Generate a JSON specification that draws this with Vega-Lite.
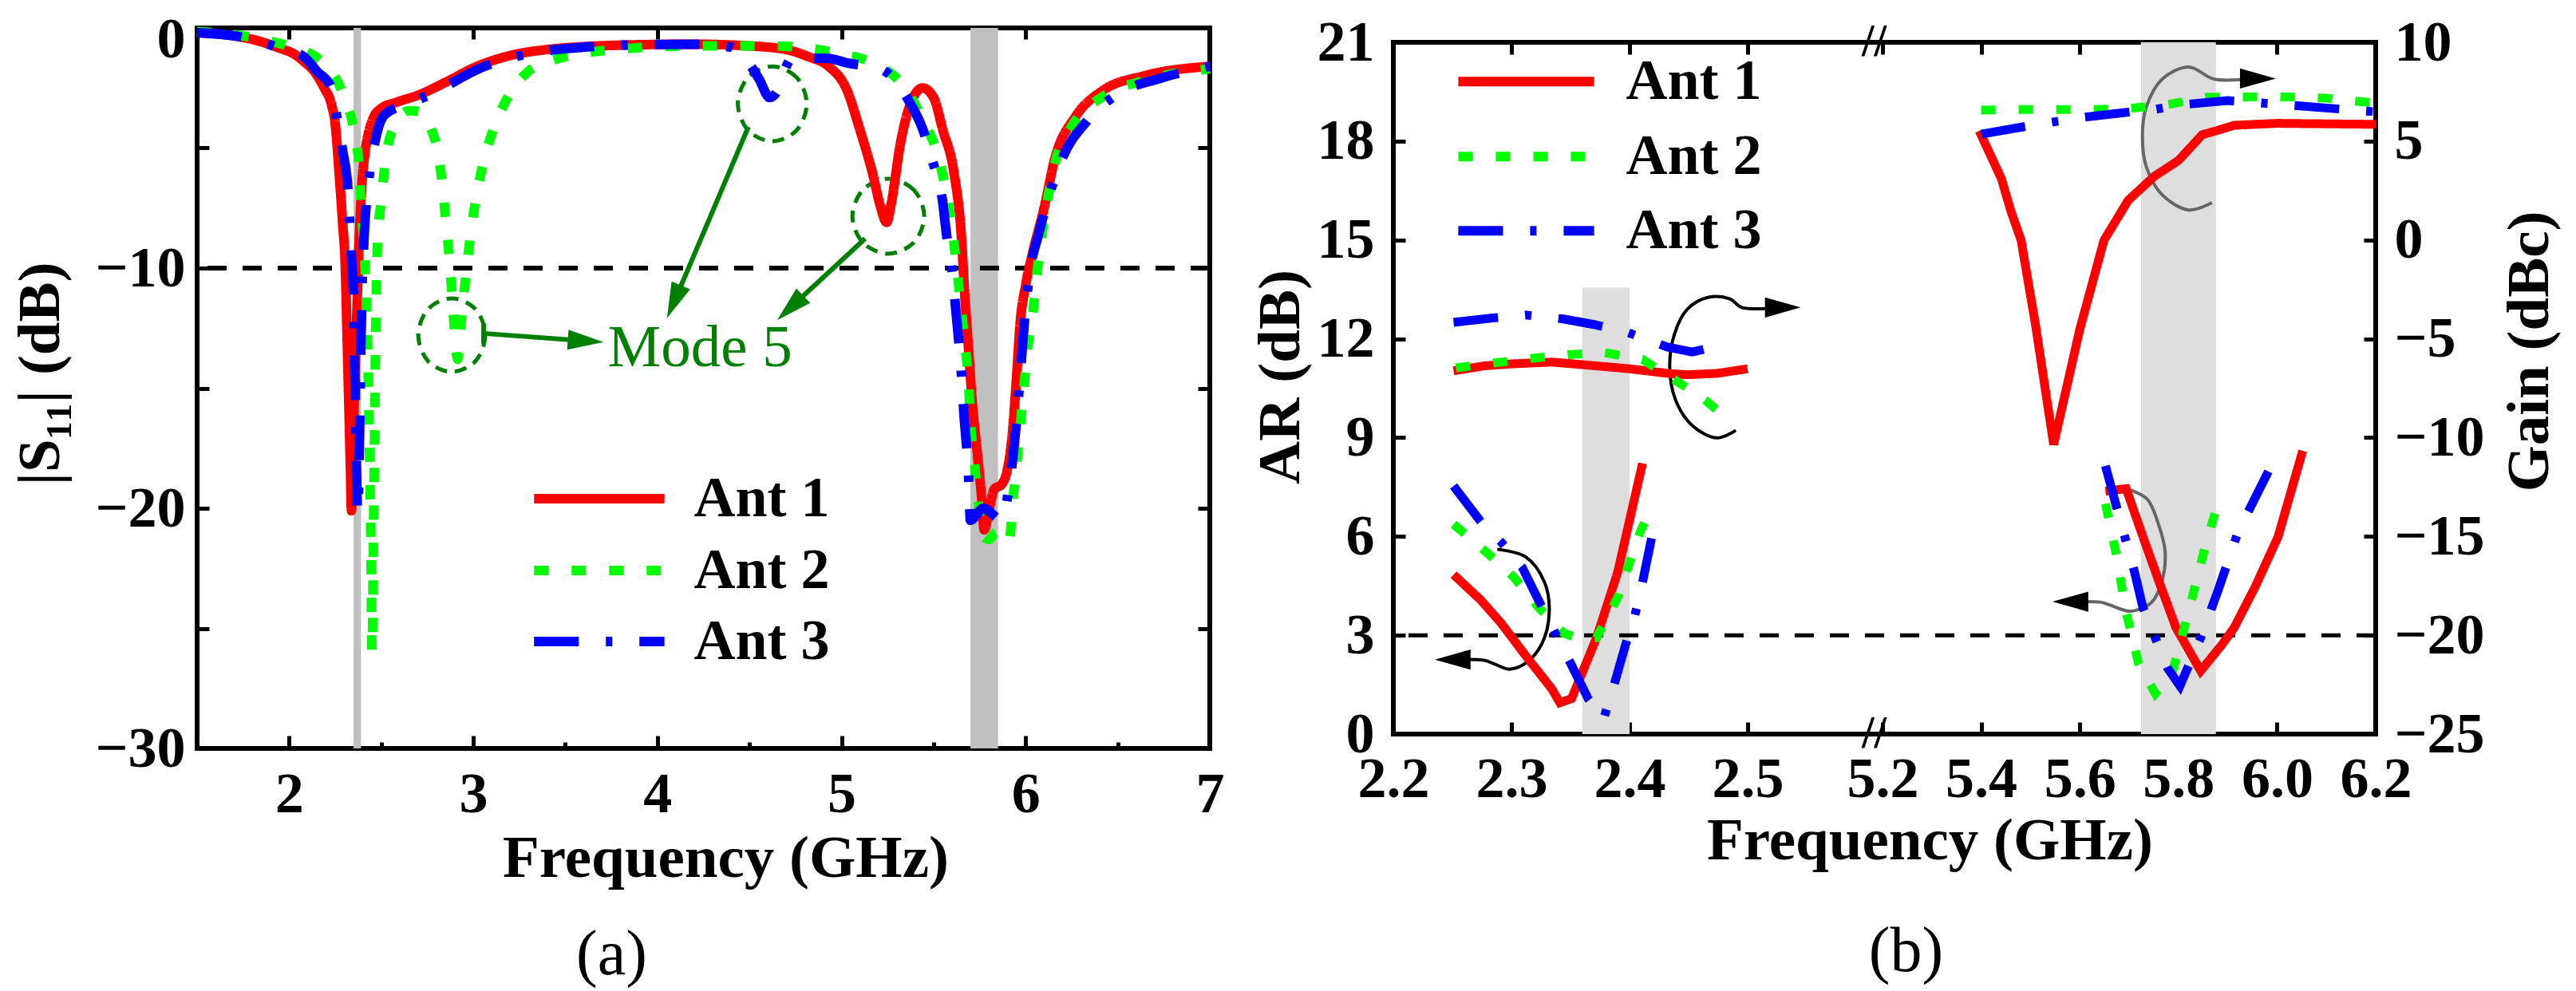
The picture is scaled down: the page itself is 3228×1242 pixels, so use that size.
{
  "$schema": "https://vega.github.io/schema/vega-lite/v6.json",
  "background": "white",
  "padding": {"left": 10, "top": 10, "right": 0, "bottom": 0},
  "spacing": 230,
  "bounds": "flush",
  "center": true,
  "config": {
    "font": "Liberation Serif",
    "view": {"stroke": "#000000", "strokeWidth": 6},
    "axis": {
      "grid": false, "domain": false, "ticks": true,
      "tickColor": "#000000", "tickWidth": 5,
      "labelFont": "Liberation Serif", "labelFontSize": 72, "labelFontWeight": "bold", "labelColor": "#000000",
      "labelOverlap": false, "labelFlush": false,
      "titleFont": "Liberation Serif", "titleFontSize": 75, "titleFontWeight": "bold", "titleColor": "#000000"
    },
    "title": {"font": "Liberation Serif", "fontSize": 80, "fontWeight": "normal", "color": "#000000"},
    "text": {"font": "Liberation Serif"}
  },
  "datasets": {
    "s11": [
      {"ant": "Ant 1", "f": 1.5, "db": -0.2}, {"ant": "Ant 1", "f": 1.7, "db": -0.33}, {"ant": "Ant 1", "f": 1.85, "db": -0.58},
      {"ant": "Ant 1", "f": 1.95, "db": -0.85}, {"ant": "Ant 1", "f": 2.03, "db": -1.1}, {"ant": "Ant 1", "f": 2.08, "db": -1.4},
      {"ant": "Ant 1", "f": 2.14, "db": -1.85}, {"ant": "Ant 1", "f": 2.19, "db": -2.5}, {"ant": "Ant 1", "f": 2.23, "db": -3.2},
      {"ant": "Ant 1", "f": 2.25, "db": -4.0}, {"ant": "Ant 1", "f": 2.27, "db": -5.9}, {"ant": "Ant 1", "f": 2.29, "db": -8.1},
      {"ant": "Ant 1", "f": 2.305, "db": -10.0}, {"ant": "Ant 1", "f": 2.315, "db": -13.0}, {"ant": "Ant 1", "f": 2.325, "db": -16.0},
      {"ant": "Ant 1", "f": 2.333, "db": -18.5}, {"ant": "Ant 1", "f": 2.338, "db": -20.1}, {"ant": "Ant 1", "f": 2.345, "db": -18.0},
      {"ant": "Ant 1", "f": 2.355, "db": -15.0}, {"ant": "Ant 1", "f": 2.365, "db": -12.5}, {"ant": "Ant 1", "f": 2.375, "db": -10.0},
      {"ant": "Ant 1", "f": 2.385, "db": -8.0}, {"ant": "Ant 1", "f": 2.395, "db": -6.5}, {"ant": "Ant 1", "f": 2.41, "db": -5.3},
      {"ant": "Ant 1", "f": 2.43, "db": -4.4}, {"ant": "Ant 1", "f": 2.46, "db": -3.7}, {"ant": "Ant 1", "f": 2.5, "db": -3.35},
      {"ant": "Ant 1", "f": 2.58, "db": -3.1}, {"ant": "Ant 1", "f": 2.7, "db": -2.8}, {"ant": "Ant 1", "f": 2.85, "db": -2.26},
      {"ant": "Ant 1", "f": 3.02, "db": -1.6}, {"ant": "Ant 1", "f": 3.21, "db": -1.13}, {"ant": "Ant 1", "f": 3.4, "db": -0.9},
      {"ant": "Ant 1", "f": 3.6, "db": -0.78}, {"ant": "Ant 1", "f": 3.9, "db": -0.7}, {"ant": "Ant 1", "f": 4.2, "db": -0.68},
      {"ant": "Ant 1", "f": 4.5, "db": -0.75}, {"ant": "Ant 1", "f": 4.7, "db": -0.9}, {"ant": "Ant 1", "f": 4.82, "db": -1.2},
      {"ant": "Ant 1", "f": 4.93, "db": -1.6}, {"ant": "Ant 1", "f": 5.03, "db": -2.6}, {"ant": "Ant 1", "f": 5.1, "db": -4.25},
      {"ant": "Ant 1", "f": 5.17, "db": -6.1}, {"ant": "Ant 1", "f": 5.21, "db": -7.4}, {"ant": "Ant 1", "f": 5.245, "db": -8.1},
      {"ant": "Ant 1", "f": 5.27, "db": -7.3}, {"ant": "Ant 1", "f": 5.32, "db": -4.8}, {"ant": "Ant 1", "f": 5.37, "db": -3.25},
      {"ant": "Ant 1", "f": 5.44, "db": -2.5}, {"ant": "Ant 1", "f": 5.5, "db": -2.9}, {"ant": "Ant 1", "f": 5.55, "db": -4.25},
      {"ant": "Ant 1", "f": 5.61, "db": -6.0}, {"ant": "Ant 1", "f": 5.65, "db": -8.6}, {"ant": "Ant 1", "f": 5.67, "db": -11.2},
      {"ant": "Ant 1", "f": 5.69, "db": -13.4}, {"ant": "Ant 1", "f": 5.71, "db": -15.6}, {"ant": "Ant 1", "f": 5.74, "db": -17.9},
      {"ant": "Ant 1", "f": 5.76, "db": -19.5}, {"ant": "Ant 1", "f": 5.775, "db": -20.9}, {"ant": "Ant 1", "f": 5.8, "db": -20.1},
      {"ant": "Ant 1", "f": 5.83, "db": -19.2}, {"ant": "Ant 1", "f": 5.87, "db": -19.0}, {"ant": "Ant 1", "f": 5.9, "db": -18.4},
      {"ant": "Ant 1", "f": 5.93, "db": -16.7}, {"ant": "Ant 1", "f": 5.95, "db": -14.6}, {"ant": "Ant 1", "f": 5.97, "db": -12.3},
      {"ant": "Ant 1", "f": 6.0, "db": -10.7}, {"ant": "Ant 1", "f": 6.04, "db": -9.3}, {"ant": "Ant 1", "f": 6.1, "db": -7.5},
      {"ant": "Ant 1", "f": 6.16, "db": -5.4}, {"ant": "Ant 1", "f": 6.27, "db": -3.7}, {"ant": "Ant 1", "f": 6.42, "db": -2.6},
      {"ant": "Ant 1", "f": 6.64, "db": -2.0}, {"ant": "Ant 1", "f": 7.0, "db": -1.6},

      {"ant": "Ant 2", "f": 1.5, "db": -0.15}, {"ant": "Ant 2", "f": 1.8, "db": -0.4}, {"ant": "Ant 2", "f": 2.03, "db": -0.85},
      {"ant": "Ant 2", "f": 2.16, "db": -1.3}, {"ant": "Ant 2", "f": 2.29, "db": -2.7}, {"ant": "Ant 2", "f": 2.35, "db": -4.2},
      {"ant": "Ant 2", "f": 2.38, "db": -5.8}, {"ant": "Ant 2", "f": 2.39, "db": -7.3}, {"ant": "Ant 2", "f": 2.405, "db": -9.0},
      {"ant": "Ant 2", "f": 2.415, "db": -10.5}, {"ant": "Ant 2", "f": 2.425, "db": -13.0}, {"ant": "Ant 2", "f": 2.435, "db": -17.0},
      {"ant": "Ant 2", "f": 2.443, "db": -21.0}, {"ant": "Ant 2", "f": 2.45, "db": -26.0}, {"ant": "Ant 2", "f": 2.458, "db": -21.0},
      {"ant": "Ant 2", "f": 2.465, "db": -16.0}, {"ant": "Ant 2", "f": 2.47, "db": -12.5}, {"ant": "Ant 2", "f": 2.475, "db": -10.3},
      {"ant": "Ant 2", "f": 2.48, "db": -8.8}, {"ant": "Ant 2", "f": 2.5, "db": -7.2}, {"ant": "Ant 2", "f": 2.52, "db": -5.7},
      {"ant": "Ant 2", "f": 2.57, "db": -4.1}, {"ant": "Ant 2", "f": 2.65, "db": -3.45}, {"ant": "Ant 2", "f": 2.72, "db": -3.5},
      {"ant": "Ant 2", "f": 2.77, "db": -4.2}, {"ant": "Ant 2", "f": 2.8, "db": -4.9}, {"ant": "Ant 2", "f": 2.83, "db": -6.4},
      {"ant": "Ant 2", "f": 2.85, "db": -8.0}, {"ant": "Ant 2", "f": 2.87, "db": -9.6}, {"ant": "Ant 2", "f": 2.885, "db": -11.2},
      {"ant": "Ant 2", "f": 2.9, "db": -12.8}, {"ant": "Ant 2", "f": 2.915, "db": -13.8}, {"ant": "Ant 2", "f": 2.93, "db": -12.6},
      {"ant": "Ant 2", "f": 2.95, "db": -11.0}, {"ant": "Ant 2", "f": 2.97, "db": -9.6}, {"ant": "Ant 2", "f": 2.99, "db": -8.3},
      {"ant": "Ant 2", "f": 3.01, "db": -7.3}, {"ant": "Ant 2", "f": 3.05, "db": -5.75}, {"ant": "Ant 2", "f": 3.11, "db": -4.2},
      {"ant": "Ant 2", "f": 3.19, "db": -2.85}, {"ant": "Ant 2", "f": 3.3, "db": -1.8}, {"ant": "Ant 2", "f": 3.45, "db": -1.3},
      {"ant": "Ant 2", "f": 3.6, "db": -1.05}, {"ant": "Ant 2", "f": 3.8, "db": -0.88}, {"ant": "Ant 2", "f": 4.2, "db": -0.75},
      {"ant": "Ant 2", "f": 4.6, "db": -0.75}, {"ant": "Ant 2", "f": 4.8, "db": -0.82}, {"ant": "Ant 2", "f": 5.0, "db": -1.1},
      {"ant": "Ant 2", "f": 5.17, "db": -1.46}, {"ant": "Ant 2", "f": 5.34, "db": -2.46}, {"ant": "Ant 2", "f": 5.44, "db": -3.8},
      {"ant": "Ant 2", "f": 5.52, "db": -5.25}, {"ant": "Ant 2", "f": 5.57, "db": -6.9}, {"ant": "Ant 2", "f": 5.6, "db": -8.3},
      {"ant": "Ant 2", "f": 5.62, "db": -9.6}, {"ant": "Ant 2", "f": 5.65, "db": -11.7}, {"ant": "Ant 2", "f": 5.67, "db": -13.2},
      {"ant": "Ant 2", "f": 5.69, "db": -14.8}, {"ant": "Ant 2", "f": 5.7, "db": -16.4}, {"ant": "Ant 2", "f": 5.72, "db": -18.0},
      {"ant": "Ant 2", "f": 5.74, "db": -19.5}, {"ant": "Ant 2", "f": 5.76, "db": -21.1}, {"ant": "Ant 2", "f": 5.8, "db": -21.3},
      {"ant": "Ant 2", "f": 5.84, "db": -21.0}, {"ant": "Ant 2", "f": 5.88, "db": -21.2}, {"ant": "Ant 2", "f": 5.91, "db": -21.4},
      {"ant": "Ant 2", "f": 5.93, "db": -19.7}, {"ant": "Ant 2", "f": 5.95, "db": -18.2}, {"ant": "Ant 2", "f": 5.97, "db": -16.6},
      {"ant": "Ant 2", "f": 5.99, "db": -15.0}, {"ant": "Ant 2", "f": 6.01, "db": -13.4}, {"ant": "Ant 2", "f": 6.04, "db": -11.8},
      {"ant": "Ant 2", "f": 6.06, "db": -10.3}, {"ant": "Ant 2", "f": 6.12, "db": -7.1}, {"ant": "Ant 2", "f": 6.16, "db": -5.6},
      {"ant": "Ant 2", "f": 6.25, "db": -4.1}, {"ant": "Ant 2", "f": 6.42, "db": -2.85}, {"ant": "Ant 2", "f": 6.64, "db": -2.2},
      {"ant": "Ant 2", "f": 7.0, "db": -1.7},

      {"ant": "Ant 3", "f": 1.5, "db": -0.2}, {"ant": "Ant 3", "f": 1.7, "db": -0.33}, {"ant": "Ant 3", "f": 1.85, "db": -0.58},
      {"ant": "Ant 3", "f": 1.95, "db": -0.85}, {"ant": "Ant 3", "f": 2.08, "db": -1.2}, {"ant": "Ant 3", "f": 2.15, "db": -1.8},
      {"ant": "Ant 3", "f": 2.23, "db": -2.5}, {"ant": "Ant 3", "f": 2.26, "db": -3.75}, {"ant": "Ant 3", "f": 2.29, "db": -5.1},
      {"ant": "Ant 3", "f": 2.32, "db": -6.8}, {"ant": "Ant 3", "f": 2.33, "db": -8.2}, {"ant": "Ant 3", "f": 2.34, "db": -9.8},
      {"ant": "Ant 3", "f": 2.35, "db": -11.3}, {"ant": "Ant 3", "f": 2.355, "db": -13.9}, {"ant": "Ant 3", "f": 2.36, "db": -15.7},
      {"ant": "Ant 3", "f": 2.365, "db": -18.3}, {"ant": "Ant 3", "f": 2.372, "db": -20.2}, {"ant": "Ant 3", "f": 2.38, "db": -18.0},
      {"ant": "Ant 3", "f": 2.385, "db": -15.5}, {"ant": "Ant 3", "f": 2.39, "db": -13.0}, {"ant": "Ant 3", "f": 2.395, "db": -11.0},
      {"ant": "Ant 3", "f": 2.405, "db": -9.0}, {"ant": "Ant 3", "f": 2.43, "db": -6.5}, {"ant": "Ant 3", "f": 2.47, "db": -4.6},
      {"ant": "Ant 3", "f": 2.52, "db": -3.6}, {"ant": "Ant 3", "f": 2.67, "db": -3.1}, {"ant": "Ant 3", "f": 2.81, "db": -2.6},
      {"ant": "Ant 3", "f": 3.03, "db": -1.7}, {"ant": "Ant 3", "f": 3.2, "db": -1.26}, {"ant": "Ant 3", "f": 3.4, "db": -0.95},
      {"ant": "Ant 3", "f": 3.6, "db": -0.8}, {"ant": "Ant 3", "f": 3.9, "db": -0.7}, {"ant": "Ant 3", "f": 4.2, "db": -0.68},
      {"ant": "Ant 3", "f": 4.4, "db": -0.8}, {"ant": "Ant 3", "f": 4.47, "db": -1.2}, {"ant": "Ant 3", "f": 4.55, "db": -2.1},
      {"ant": "Ant 3", "f": 4.61, "db": -2.9}, {"ant": "Ant 3", "f": 4.66, "db": -2.5}, {"ant": "Ant 3", "f": 4.7, "db": -1.6},
      {"ant": "Ant 3", "f": 4.73, "db": -1.26}, {"ant": "Ant 3", "f": 4.92, "db": -1.26}, {"ant": "Ant 3", "f": 5.03, "db": -1.46},
      {"ant": "Ant 3", "f": 5.21, "db": -1.7}, {"ant": "Ant 3", "f": 5.37, "db": -3.1}, {"ant": "Ant 3", "f": 5.44, "db": -4.2},
      {"ant": "Ant 3", "f": 5.49, "db": -5.45}, {"ant": "Ant 3", "f": 5.55, "db": -7.3}, {"ant": "Ant 3", "f": 5.57, "db": -8.6},
      {"ant": "Ant 3", "f": 5.6, "db": -10.1}, {"ant": "Ant 3", "f": 5.62, "db": -11.7}, {"ant": "Ant 3", "f": 5.65, "db": -14.3},
      {"ant": "Ant 3", "f": 5.665, "db": -16.1}, {"ant": "Ant 3", "f": 5.69, "db": -18.7}, {"ant": "Ant 3", "f": 5.7, "db": -20.5},
      {"ant": "Ant 3", "f": 5.77, "db": -20.0}, {"ant": "Ant 3", "f": 5.87, "db": -20.5}, {"ant": "Ant 3", "f": 5.91, "db": -19.1},
      {"ant": "Ant 3", "f": 5.94, "db": -17.2}, {"ant": "Ant 3", "f": 5.97, "db": -14.5}, {"ant": "Ant 3", "f": 5.99, "db": -12.5},
      {"ant": "Ant 3", "f": 6.02, "db": -10.3}, {"ant": "Ant 3", "f": 6.07, "db": -8.6}, {"ant": "Ant 3", "f": 6.2, "db": -5.4},
      {"ant": "Ant 3", "f": 6.33, "db": -3.9}, {"ant": "Ant 3", "f": 6.5, "db": -2.75}, {"ant": "Ant 3", "f": 6.73, "db": -2.1},
      {"ant": "Ant 3", "f": 7.0, "db": -1.6}
    ],
    "circlesA": [
      {"id": "c1", "f": 3.065, "db": -12.79}, {"id": "c1", "f": 3.012, "db": -11.71}, {"id": "c1", "f": 2.883, "db": -11.26},
      {"id": "c1", "f": 2.754, "db": -11.71}, {"id": "c1", "f": 2.701, "db": -12.79}, {"id": "c1", "f": 2.754, "db": -13.87},
      {"id": "c1", "f": 2.883, "db": -14.32}, {"id": "c1", "f": 3.012, "db": -13.87},
      {"id": "c2", "f": 4.811, "db": -3.16}, {"id": "c2", "f": 4.756, "db": -2.06}, {"id": "c2", "f": 4.624, "db": -1.6},
      {"id": "c2", "f": 4.492, "db": -2.06}, {"id": "c2", "f": 4.437, "db": -3.16}, {"id": "c2", "f": 4.492, "db": -4.26},
      {"id": "c2", "f": 4.624, "db": -4.72}, {"id": "c2", "f": 4.756, "db": -4.26},
      {"id": "c3", "f": 5.449, "db": -7.84}, {"id": "c3", "f": 5.392, "db": -6.74}, {"id": "c3", "f": 5.254, "db": -6.28},
      {"id": "c3", "f": 5.116, "db": -6.74}, {"id": "c3", "f": 5.059, "db": -7.84}, {"id": "c3", "f": 5.116, "db": -8.94},
      {"id": "c3", "f": 5.254, "db": -9.4}, {"id": "c3", "f": 5.392, "db": -8.94}
    ],
    "arrowsA": [
      {"id": "a1", "f": 3.056, "db": -12.72}, {"id": "a1", "f": 3.621, "db": -13.04},
      {"id": "a2", "f": 4.494, "db": -4.12}, {"id": "a2", "f": 4.086, "db": -11.5},
      {"id": "a3", "f": 5.128, "db": -8.77}, {"id": "a3", "f": 4.714, "db": -11.71},
      {"id": "t1", "f": 3.056, "db": -12.3}, {"id": "t1", "f": 3.056, "db": -13.15}
    ],
    "gain": [
      {"ant": "Ant 1", "band": "lo", "f": 2.251, "g": -6.62}, {"ant": "Ant 1", "band": "lo", "f": 2.277, "g": -6.37},
      {"ant": "Ant 1", "band": "lo", "f": 2.3, "g": -6.27}, {"ant": "Ant 1", "band": "lo", "f": 2.334, "g": -6.18},
      {"ant": "Ant 1", "band": "lo", "f": 2.362, "g": -6.32}, {"ant": "Ant 1", "band": "lo", "f": 2.4, "g": -6.52},
      {"ant": "Ant 1", "band": "lo", "f": 2.432, "g": -6.75}, {"ant": "Ant 1", "band": "lo", "f": 2.449, "g": -6.82},
      {"ant": "Ant 1", "band": "lo", "f": 2.474, "g": -6.75}, {"ant": "Ant 1", "band": "lo", "f": 2.5, "g": -6.52},
      {"ant": "Ant 1", "band": "hi", "f": 5.396, "g": 5.52}, {"ant": "Ant 1", "band": "hi", "f": 5.441, "g": 3.1},
      {"ant": "Ant 1", "band": "hi", "f": 5.46, "g": 1.48}, {"ant": "Ant 1", "band": "hi", "f": 5.481, "g": -0.02},
      {"ant": "Ant 1", "band": "hi", "f": 5.51, "g": -4.27}, {"ant": "Ant 1", "band": "hi", "f": 5.547, "g": -10.35},
      {"ant": "Ant 1", "band": "hi", "f": 5.6, "g": -4.52}, {"ant": "Ant 1", "band": "hi", "f": 5.649, "g": -0.02},
      {"ant": "Ant 1", "band": "hi", "f": 5.698, "g": 2.0}, {"ant": "Ant 1", "band": "hi", "f": 5.751, "g": 3.22},
      {"ant": "Ant 1", "band": "hi", "f": 5.8, "g": 4.02}, {"ant": "Ant 1", "band": "hi", "f": 5.848, "g": 5.32},
      {"ant": "Ant 1", "band": "hi", "f": 5.876, "g": 5.52}, {"ant": "Ant 1", "band": "hi", "f": 5.913, "g": 5.8},
      {"ant": "Ant 1", "band": "hi", "f": 6.0, "g": 5.9}, {"ant": "Ant 1", "band": "hi", "f": 6.2, "g": 5.85},

      {"ant": "Ant 2", "band": "lo", "f": 2.253, "g": -6.47}, {"ant": "Ant 2", "band": "lo", "f": 2.286, "g": -6.22},
      {"ant": "Ant 2", "band": "lo", "f": 2.316, "g": -6.0}, {"ant": "Ant 2", "band": "lo", "f": 2.348, "g": -5.8},
      {"ant": "Ant 2", "band": "lo", "f": 2.379, "g": -5.7}, {"ant": "Ant 2", "band": "lo", "f": 2.411, "g": -6.05},
      {"ant": "Ant 2", "band": "lo", "f": 2.435, "g": -6.95}, {"ant": "Ant 2", "band": "lo", "f": 2.464, "g": -8.1},
      {"ant": "Ant 2", "band": "lo", "f": 2.485, "g": -9.18},
      {"ant": "Ant 2", "band": "hi", "f": 5.4, "g": 6.57}, {"ant": "Ant 2", "band": "hi", "f": 5.488, "g": 6.6},
      {"ant": "Ant 2", "band": "hi", "f": 5.562, "g": 6.6}, {"ant": "Ant 2", "band": "hi", "f": 5.637, "g": 6.6},
      {"ant": "Ant 2", "band": "hi", "f": 5.711, "g": 6.68}, {"ant": "Ant 2", "band": "hi", "f": 5.785, "g": 6.88},
      {"ant": "Ant 2", "band": "hi", "f": 5.86, "g": 7.22}, {"ant": "Ant 2", "band": "hi", "f": 6.0, "g": 7.25},
      {"ant": "Ant 2", "band": "hi", "f": 6.1, "g": 7.17}, {"ant": "Ant 2", "band": "hi", "f": 6.2, "g": 6.92},

      {"ant": "Ant 3", "band": "lo", "f": 2.251, "g": -4.17}, {"ant": "Ant 3", "band": "lo", "f": 2.284, "g": -3.95},
      {"ant": "Ant 3", "band": "lo", "f": 2.312, "g": -3.8}, {"ant": "Ant 3", "band": "lo", "f": 2.344, "g": -4.0},
      {"ant": "Ant 3", "band": "lo", "f": 2.369, "g": -4.27}, {"ant": "Ant 3", "band": "lo", "f": 2.397, "g": -4.65},
      {"ant": "Ant 3", "band": "lo", "f": 2.432, "g": -5.42}, {"ant": "Ant 3", "band": "lo", "f": 2.453, "g": -5.67},
      {"ant": "Ant 3", "band": "lo", "f": 2.481, "g": -5.28},
      {"ant": "Ant 3", "band": "hi", "f": 5.4, "g": 5.35}, {"ant": "Ant 3", "band": "hi", "f": 5.485, "g": 5.72},
      {"ant": "Ant 3", "band": "hi", "f": 5.546, "g": 5.97}, {"ant": "Ant 3", "band": "hi", "f": 5.606, "g": 6.2},
      {"ant": "Ant 3", "band": "hi", "f": 5.692, "g": 6.45}, {"ant": "Ant 3", "band": "hi", "f": 5.751, "g": 6.6},
      {"ant": "Ant 3", "band": "hi", "f": 5.811, "g": 6.85}, {"ant": "Ant 3", "band": "hi", "f": 5.9, "g": 7.05},
      {"ant": "Ant 3", "band": "hi", "f": 6.0, "g": 6.87}, {"ant": "Ant 3", "band": "hi", "f": 6.2, "g": 6.48}
    ],
    "ar": [
      {"ant": "Ant 1", "band": "lo", "f": 2.251, "ar": 4.84}, {"ant": "Ant 1", "band": "lo", "f": 2.274, "ar": 4.07},
      {"ant": "Ant 1", "band": "lo", "f": 2.291, "ar": 3.38}, {"ant": "Ant 1", "band": "lo", "f": 2.312, "ar": 2.38},
      {"ant": "Ant 1", "band": "lo", "f": 2.334, "ar": 1.38}, {"ant": "Ant 1", "band": "lo", "f": 2.341, "ar": 0.95},
      {"ant": "Ant 1", "band": "lo", "f": 2.351, "ar": 1.08}, {"ant": "Ant 1", "band": "lo", "f": 2.372, "ar": 2.92},
      {"ant": "Ant 1", "band": "lo", "f": 2.39, "ar": 4.92}, {"ant": "Ant 1", "band": "lo", "f": 2.411, "ar": 8.22},
      {"ant": "Ant 1", "band": "hi", "f": 5.652, "ar": 7.37}, {"ant": "Ant 1", "band": "hi", "f": 5.694, "ar": 7.45},
      {"ant": "Ant 1", "band": "hi", "f": 5.728, "ar": 5.99}, {"ant": "Ant 1", "band": "hi", "f": 5.761, "ar": 4.61},
      {"ant": "Ant 1", "band": "hi", "f": 5.795, "ar": 3.23}, {"ant": "Ant 1", "band": "hi", "f": 5.845, "ar": 1.92},
      {"ant": "Ant 1", "band": "hi", "f": 5.887, "ar": 2.69}, {"ant": "Ant 1", "band": "hi", "f": 5.913, "ar": 3.23},
      {"ant": "Ant 1", "band": "hi", "f": 5.955, "ar": 4.45}, {"ant": "Ant 1", "band": "hi", "f": 6.002, "ar": 5.99},
      {"ant": "Ant 1", "band": "hi", "f": 6.052, "ar": 8.6},

      {"ant": "Ant 2", "band": "lo", "f": 2.251, "ar": 6.37}, {"ant": "Ant 2", "band": "lo", "f": 2.281, "ar": 5.45},
      {"ant": "Ant 2", "band": "lo", "f": 2.302, "ar": 4.76}, {"ant": "Ant 2", "band": "lo", "f": 2.323, "ar": 3.84},
      {"ant": "Ant 2", "band": "lo", "f": 2.344, "ar": 3.07}, {"ant": "Ant 2", "band": "lo", "f": 2.36, "ar": 2.85},
      {"ant": "Ant 2", "band": "lo", "f": 2.372, "ar": 2.92}, {"ant": "Ant 2", "band": "lo", "f": 2.39, "ar": 4.15},
      {"ant": "Ant 2", "band": "lo", "f": 2.409, "ar": 6.14}, {"ant": "Ant 2", "band": "lo", "f": 2.415, "ar": 6.6},
      {"ant": "Ant 2", "band": "hi", "f": 5.652, "ar": 6.99}, {"ant": "Ant 2", "band": "hi", "f": 5.674, "ar": 5.45},
      {"ant": "Ant 2", "band": "hi", "f": 5.694, "ar": 3.69}, {"ant": "Ant 2", "band": "hi", "f": 5.719, "ar": 2.15},
      {"ant": "Ant 2", "band": "hi", "f": 5.753, "ar": 1.23}, {"ant": "Ant 2", "band": "hi", "f": 5.787, "ar": 1.84},
      {"ant": "Ant 2", "band": "hi", "f": 5.82, "ar": 3.69}, {"ant": "Ant 2", "band": "hi", "f": 5.854, "ar": 5.68},
      {"ant": "Ant 2", "band": "hi", "f": 5.887, "ar": 7.37},

      {"ant": "Ant 3", "band": "lo", "f": 2.251, "ar": 7.53}, {"ant": "Ant 3", "band": "lo", "f": 2.274, "ar": 6.45},
      {"ant": "Ant 3", "band": "lo", "f": 2.291, "ar": 5.84}, {"ant": "Ant 3", "band": "lo", "f": 2.309, "ar": 5.07},
      {"ant": "Ant 3", "band": "lo", "f": 2.326, "ar": 3.84}, {"ant": "Ant 3", "band": "lo", "f": 2.337, "ar": 3.07},
      {"ant": "Ant 3", "band": "lo", "f": 2.348, "ar": 2.3}, {"ant": "Ant 3", "band": "lo", "f": 2.365, "ar": 1.07},
      {"ant": "Ant 3", "band": "lo", "f": 2.378, "ar": 0.46}, {"ant": "Ant 3", "band": "lo", "f": 2.386, "ar": 1.38},
      {"ant": "Ant 3", "band": "lo", "f": 2.397, "ar": 2.76}, {"ant": "Ant 3", "band": "lo", "f": 2.404, "ar": 3.53},
      {"ant": "Ant 3", "band": "lo", "f": 2.411, "ar": 4.61}, {"ant": "Ant 3", "band": "lo", "f": 2.418, "ar": 5.84},
      {"ant": "Ant 3", "band": "lo", "f": 2.422, "ar": 6.52},
      {"ant": "Ant 3", "band": "hi", "f": 5.652, "ar": 8.14}, {"ant": "Ant 3", "band": "hi", "f": 5.677, "ar": 6.76},
      {"ant": "Ant 3", "band": "hi", "f": 5.711, "ar": 4.92}, {"ant": "Ant 3", "band": "hi", "f": 5.728, "ar": 3.84},
      {"ant": "Ant 3", "band": "hi", "f": 5.753, "ar": 2.92}, {"ant": "Ant 3", "band": "hi", "f": 5.778, "ar": 2.0},
      {"ant": "Ant 3", "band": "hi", "f": 5.803, "ar": 1.46}, {"ant": "Ant 3", "band": "hi", "f": 5.845, "ar": 2.92},
      {"ant": "Ant 3", "band": "hi", "f": 5.879, "ar": 4.3}, {"ant": "Ant 3", "band": "hi", "f": 5.921, "ar": 6.14},
      {"ant": "Ant 3", "band": "hi", "f": 5.988, "ar": 8.14}
    ],
    "arcsB": [
      {"id": "gL", "f": 2.49, "ar": 9.22}, {"id": "gL", "f": 2.474, "ar": 8.99}, {"id": "gL", "f": 2.453, "ar": 9.37},
      {"id": "gL", "f": 2.439, "ar": 10.14}, {"id": "gL", "f": 2.434, "ar": 11.14}, {"id": "gL", "f": 2.438, "ar": 12.14},
      {"id": "gL", "f": 2.449, "ar": 12.9}, {"id": "gL", "f": 2.467, "ar": 13.26}, {"id": "gL", "f": 2.485, "ar": 13.21},
      {"id": "gL", "f": 2.495, "ar": 12.95}, {"id": "gL", "f": 2.53, "ar": 12.95},
      {"id": "aL", "f": 2.288, "ar": 5.61}, {"id": "aL", "f": 2.312, "ar": 5.38}, {"id": "aL", "f": 2.328, "ar": 4.61},
      {"id": "aL", "f": 2.332, "ar": 3.69}, {"id": "aL", "f": 2.326, "ar": 2.76}, {"id": "aL", "f": 2.312, "ar": 2.15},
      {"id": "aL", "f": 2.298, "ar": 1.97}, {"id": "aL", "f": 2.286, "ar": 2.12}, {"id": "aL", "f": 2.277, "ar": 2.24},
      {"id": "aL", "f": 2.255, "ar": 2.26}
    ],
    "arcsG": [
      {"id": "gR", "f": 5.868, "ar": 16.13}, {"id": "gR", "f": 5.821, "ar": 15.91}, {"id": "gR", "f": 5.767, "ar": 16.37},
      {"id": "gR", "f": 5.735, "ar": 17.22}, {"id": "gR", "f": 5.727, "ar": 18.14}, {"id": "gR", "f": 5.735, "ar": 19.04},
      {"id": "gR", "f": 5.767, "ar": 19.88}, {"id": "gR", "f": 5.821, "ar": 20.25}, {"id": "gR", "f": 5.873, "ar": 19.88},
      {"id": "gR", "f": 5.95, "ar": 19.9},
      {"id": "aR", "f": 5.694, "ar": 7.45}, {"id": "aR", "f": 5.736, "ar": 7.14}, {"id": "aR", "f": 5.761, "ar": 6.3},
      {"id": "aR", "f": 5.773, "ar": 5.53}, {"id": "aR", "f": 5.766, "ar": 4.61}, {"id": "aR", "f": 5.745, "ar": 3.99},
      {"id": "aR", "f": 5.703, "ar": 3.73}, {"id": "aR", "f": 5.661, "ar": 3.92}, {"id": "aR", "f": 5.644, "ar": 4.0},
      {"id": "aR", "f": 5.59, "ar": 4.02}
    ]
  },
  "hconcat": [
    {
      "width": 1269,
      "height": 903,
      "title": {"text": "(a)", "orient": "bottom", "frame": "group", "offset": 45, "dx": -115},
      "resolve": {"axis": {"x": "independent", "y": "independent"}},
      "layer": [
        {
          "data": {"values": [{"f1": 2.35, "f2": 2.39}, {"f1": 5.7, "f2": 5.85}]},
          "mark": {"type": "rect", "color": "#c0c0c0"},
          "encoding": {
            "x": {"field": "f1", "type": "quantitative", "scale": {"domain": [1.5, 7], "nice": false, "zero": false},
                  "axis": {"orient": "bottom", "values": [2.5, 3.5, 4.5, 5.5, 6.5], "labels": false, "title": null, "tickSize": -8}},
            "x2": {"field": "f2"},
            "y": {"datum": 0, "type": "quantitative", "scale": {"domain": [-30, 0], "nice": false, "zero": false},
                  "axis": {"orient": "right", "values": [-30, -25, -20, -15, -10, -5, 0], "labels": false, "title": null, "tickSize": -15}},
            "y2": {"datum": -30}
          }
        },
        {
          "data": {"values": [{}]},
          "mark": {"type": "rule", "color": "#000000", "strokeWidth": 6, "strokeDash": [24, 20]},
          "encoding": {
            "y": {"datum": -10, "type": "quantitative", "scale": {"domain": [-30, 0], "nice": false, "zero": false}, "axis": null}
          }
        },
        {
          "data": {"name": "circlesA"},
          "mark": {"type": "line", "interpolate": "cardinal-closed", "color": "#008000", "strokeWidth": 5, "strokeDash": [15, 10]},
          "encoding": {
            "x": {"field": "f", "type": "quantitative", "scale": {"domain": [1.5, 7], "nice": false, "zero": false}, "axis": null},
            "y": {"field": "db", "type": "quantitative", "scale": {"domain": [-30, 0], "nice": false, "zero": false}, "axis": null},
            "detail": {"field": "id"},
            "order": {"value": null}
          }
        },
        {
          "data": {"name": "arrowsA"},
          "mark": {"type": "line", "color": "#008000", "strokeWidth": 6},
          "encoding": {
            "x": {"field": "f", "type": "quantitative", "scale": {"domain": [1.5, 7], "nice": false, "zero": false}, "axis": null},
            "y": {"field": "db", "type": "quantitative", "scale": {"domain": [-30, 0], "nice": false, "zero": false}, "axis": null},
            "detail": {"field": "id"},
            "order": {"value": null}
          }
        },
        {
          "data": {"values": [{"f": 3.586, "db": -13.02}]},
          "mark": {"type": "point", "shape": "M0,-1L0.45,0.6L-0.45,0.6Z", "filled": true, "color": "#008000", "opacity": 1, "size": 3136, "angle": 94},
          "encoding": {
            "x": {"field": "f", "type": "quantitative", "scale": {"domain": [1.5, 7], "nice": false, "zero": false}, "axis": null},
            "y": {"field": "db", "type": "quantitative", "scale": {"domain": [-30, 0], "nice": false, "zero": false}, "axis": null}
          }
        },
        {
          "data": {"values": [{"f": 4.099, "db": -11.23}]},
          "mark": {"type": "point", "shape": "M0,-1L0.45,0.6L-0.45,0.6Z", "filled": true, "color": "#008000", "opacity": 1, "size": 3136, "angle": 203},
          "encoding": {
            "x": {"field": "f", "type": "quantitative", "scale": {"domain": [1.5, 7], "nice": false, "zero": false}, "axis": null},
            "y": {"field": "db", "type": "quantitative", "scale": {"domain": [-30, 0], "nice": false, "zero": false}, "axis": null}
          }
        },
        {
          "data": {"values": [{"f": 4.739, "db": -11.53}]},
          "mark": {"type": "point", "shape": "M0,-1L0.45,0.6L-0.45,0.6Z", "filled": true, "color": "#008000", "opacity": 1, "size": 3136, "angle": 227},
          "encoding": {
            "x": {"field": "f", "type": "quantitative", "scale": {"domain": [1.5, 7], "nice": false, "zero": false}, "axis": null},
            "y": {"field": "db", "type": "quantitative", "scale": {"domain": [-30, 0], "nice": false, "zero": false}, "axis": null}
          }
        },
        {
          "data": {"values": [{"f": 3.73, "db": -14.09, "label": "Mode 5"}]},
          "mark": {"type": "text", "align": "left", "baseline": "alphabetic", "fontSize": 75, "fontWeight": "normal", "color": "#008000"},
          "encoding": {
            "x": {"field": "f", "type": "quantitative", "scale": {"domain": [1.5, 7], "nice": false, "zero": false}, "axis": null},
            "y": {"field": "db", "type": "quantitative", "scale": {"domain": [-30, 0], "nice": false, "zero": false}, "axis": null},
            "text": {"field": "label"}
          }
        },
        {
          "data": {"name": "s11"},
          "mark": {"type": "line", "strokeWidth": 12, "interpolate": "monotone", "strokeCap": "butt"},
          "encoding": {
            "x": {"field": "f", "type": "quantitative", "scale": {"domain": [1.5, 7], "nice": false, "zero": false},
                  "axis": {"orient": "bottom", "values": [2, 3, 4, 5, 6, 7], "format": "d", "title": "Frequency (GHz)",
                           "titleX": 662, "titleY": 160, "titleBaseline": "alphabetic", "titleAlign": "center",
                           "tickSize": -16, "labelPadding": 38, "labelBaseline": "top"}},
            "y": {"field": "db", "type": "quantitative", "scale": {"domain": [-30, 0], "nice": false, "zero": false},
                  "axis": {"orient": "left", "values": [-30, -25, -20, -15, -10, -5, 0],
                           "labelExpr": "datum.value % 10 === 0 ? datum.label : ''",
                           "title": "|S₁₁| (dB)", "titleX": -174, "titleY": 433, "titleBaseline": "alphabetic",
                           "titleAlign": "center", "titleAngle": -90, "tickSize": -15, "labelPadding": 30,
                           "labelOffset": {"condition": {"test": "datum.value === 0", "value": 14}, "value": 0}}},
            "color": {"field": "ant", "type": "nominal", "legend": null,
                      "scale": {"domain": ["Ant 1", "Ant 2", "Ant 3"], "range": ["#ff0000", "#00ff00", "#0000ff"]}},
            "strokeDash": {"field": "ant", "type": "nominal", "legend": null,
                           "scale": {"domain": ["Ant 1", "Ant 2", "Ant 3"], "range": [[1, 0], [18, 29], [56, 34, 8, 34]]}}
          }
        },
        {
          "data": {"values": [{}]},
          "mark": {"type": "rule", "color": "#ff0000", "strokeWidth": 12, "strokeCap": "butt"},
          "encoding": {
            "x": {"datum": 3.33, "type": "quantitative", "scale": {"domain": [1.5, 7], "nice": false, "zero": false},
                  "axis": {"orient": "top", "values": [2, 3, 4, 5, 6, 7], "labels": false, "title": null, "tickSize": -14}},
            "x2": {"datum": 4.038},
            "y": {"datum": -19.6, "type": "quantitative", "scale": {"domain": [-30, 0], "nice": false, "zero": false}, "axis": null}
          }
        },
        {
          "data": {"values": [{}]},
          "mark": {"type": "rule", "color": "#00ff00", "strokeWidth": 12, "strokeCap": "butt", "strokeDash": [18, 29]},
          "encoding": {
            "x": {"datum": 3.33, "type": "quantitative", "scale": {"domain": [1.5, 7], "nice": false, "zero": false}, "axis": null},
            "x2": {"datum": 4.038},
            "y": {"datum": -22.59, "type": "quantitative", "scale": {"domain": [-30, 0], "nice": false, "zero": false}, "axis": null}
          }
        },
        {
          "data": {"values": [{}]},
          "mark": {"type": "rule", "color": "#0000ff", "strokeWidth": 12, "strokeCap": "butt", "strokeDash": [56, 34, 8, 34]},
          "encoding": {
            "x": {"datum": 3.33, "type": "quantitative", "scale": {"domain": [1.5, 7], "nice": false, "zero": false}, "axis": null},
            "x2": {"datum": 4.038},
            "y": {"datum": -25.55, "type": "quantitative", "scale": {"domain": [-30, 0], "nice": false, "zero": false}, "axis": null}
          }
        },
        {
          "data": {"values": [{"label": "Ant 1", "db": -19.6}, {"label": "Ant 2", "db": -22.59}, {"label": "Ant 3", "db": -25.55}]},
          "mark": {"type": "text", "align": "left", "baseline": "middle", "fontSize": 72, "fontWeight": "bold", "color": "#000000"},
          "encoding": {
            "x": {"datum": 4.198, "type": "quantitative", "scale": {"domain": [1.5, 7], "nice": false, "zero": false}, "axis": null},
            "y": {"field": "db", "type": "quantitative", "scale": {"domain": [-30, 0], "nice": false, "zero": false}, "axis": null},
            "text": {"field": "label"}
          }
        }
      ]
    },
    {
      "width": 1231,
      "height": 867,
      "title": {"text": "(b)", "orient": "bottom", "frame": "group", "offset": 63, "dx": 27},
      "resolve": {"scale": {"y": "independent"}, "axis": {"x": "independent", "y": "independent"}},
      "layer": [
        {
          "resolve": {"axis": {"x": "independent", "y": "independent"}},
          "layer": [
            {
              "data": {"values": [{"f1": 2.36, "f2": 2.4, "top": 13.55}, {"f1": 5.724, "f2": 5.876, "top": 21}]},
              "mark": {"type": "rect", "color": "#dedede"},
              "encoding": {
                "x": {"field": "f1", "type": "quantitative", "scale": {"domain": [2.2, 2.6, 5.2, 6.2], "range": [0, 592, 613, 1231], "nice": false, "zero": false}, "axis": null},
                "x2": {"field": "f2"},
                "y": {"field": "top", "type": "quantitative", "scale": {"domain": [0, 21], "nice": false, "zero": false}, "axis": null},
                "y2": {"datum": 0}
              }
            },
            {
              "data": {"values": [{}]},
              "mark": {"type": "rule", "color": "#000000", "strokeWidth": 5, "strokeDash": [24, 20]},
              "encoding": {
                "y": {"datum": 3, "type": "quantitative", "scale": {"domain": [0, 21], "nice": false, "zero": false}, "axis": null}
              }
            },
            {
              "data": {"name": "arcsB"},
              "mark": {"type": "line", "interpolate": "catmull-rom", "color": "#000000", "strokeWidth": 4},
              "encoding": {
                "x": {"field": "f", "type": "quantitative", "scale": {"domain": [2.2, 2.6, 5.2, 6.2], "range": [0, 592, 613, 1231], "nice": false, "zero": false}, "axis": null},
                "y": {"field": "ar", "type": "quantitative", "scale": {"domain": [0, 21], "nice": false, "zero": false}, "axis": null},
                "detail": {"field": "id"},
                "order": {"value": null}
              }
            },
            {
              "data": {"name": "arcsG"},
              "mark": {"type": "line", "interpolate": "catmull-rom", "color": "#666666", "strokeWidth": 4},
              "encoding": {
                "x": {"field": "f", "type": "quantitative", "scale": {"domain": [2.2, 2.6, 5.2, 6.2], "range": [0, 592, 613, 1231], "nice": false, "zero": false}, "axis": null},
                "y": {"field": "ar", "type": "quantitative", "scale": {"domain": [0, 21], "nice": false, "zero": false}, "axis": null},
                "detail": {"field": "id"},
                "order": {"value": null}
              }
            },
            {
              "data": {"values": [{"f": 2.526, "ar": 12.95}, {"f": 5.952, "ar": 19.9}]},
              "mark": {"type": "point", "shape": "M1,0L-0.6,-0.45L-0.6,0.45Z", "filled": true, "color": "#000000", "opacity": 1, "size": 3136},
              "encoding": {
                "x": {"field": "f", "type": "quantitative", "scale": {"domain": [2.2, 2.6, 5.2, 6.2], "range": [0, 592, 613, 1231], "nice": false, "zero": false}, "axis": null},
                "y": {"field": "ar", "type": "quantitative", "scale": {"domain": [0, 21], "nice": false, "zero": false}, "axis": null}
              }
            },
            {
              "data": {"values": [{"f": 2.254, "ar": 2.26}, {"f": 5.59, "ar": 4.02}]},
              "mark": {"type": "point", "shape": "M-1,0L0.6,-0.45L0.6,0.45Z", "filled": true, "color": "#000000", "opacity": 1, "size": 3136},
              "encoding": {
                "x": {"field": "f", "type": "quantitative", "scale": {"domain": [2.2, 2.6, 5.2, 6.2], "range": [0, 592, 613, 1231], "nice": false, "zero": false}, "axis": null},
                "y": {"field": "ar", "type": "quantitative", "scale": {"domain": [0, 21], "nice": false, "zero": false}, "axis": null}
              }
            },
            {
              "data": {"name": "ar"},
              "mark": {"type": "line", "strokeWidth": 11, "strokeCap": "butt"},
              "encoding": {
                "x": {"field": "f", "type": "quantitative", "scale": {"domain": [2.2, 2.6, 5.2, 6.2], "range": [0, 592, 613, 1231], "nice": false, "zero": false},
                      "axis": {"orient": "bottom", "values": [2.2, 2.3, 2.4, 2.5, 5.2, 5.4, 5.6, 5.8, 6.0, 6.2], "format": ".1f",
                               "title": "Frequency (GHz)", "titleX": 672, "titleY": 156, "titleBaseline": "alphabetic", "titleAlign": "center",
                               "tickSize": -15, "labelPadding": 36, "labelBaseline": "top"}},
                "y": {"field": "ar", "type": "quantitative", "scale": {"domain": [0, 21], "nice": false, "zero": false},
                      "axis": {"orient": "left", "values": [0, 3, 6, 9, 12, 15, 18, 21], "title": "AR (dB)",
                               "titleX": -119, "titleY": 419, "titleBaseline": "alphabetic", "titleAlign": "center", "titleAngle": -90,
                               "tickSize": -15, "labelPadding": 39}},
                "detail": {"field": "band"},
                "color": {"field": "ant", "type": "nominal", "legend": null,
                          "scale": {"domain": ["Ant 1", "Ant 2", "Ant 3"], "range": ["#ff0000", "#00ff00", "#0000ff"]}},
                "strokeDash": {"field": "ant", "type": "nominal", "legend": null,
                               "scale": {"domain": ["Ant 1", "Ant 2", "Ant 3"], "range": [[1, 0], [18, 29], [56, 34, 8, 34]]}}
              }
            },
            {
              "data": {"values": [{}]},
              "mark": {"type": "rule", "color": "#ff0000", "strokeWidth": 12, "strokeCap": "butt"},
              "encoding": {
                "x": {"datum": 2.255, "type": "quantitative", "scale": {"domain": [2.2, 2.6, 5.2, 6.2], "range": [0, 592, 613, 1231], "nice": false, "zero": false}, "axis": null},
                "x2": {"datum": 2.37},
                "y": {"datum": 19.81, "type": "quantitative", "scale": {"domain": [0, 21], "nice": false, "zero": false}, "axis": null}
              }
            },
            {
              "data": {"values": [{}]},
              "mark": {"type": "rule", "color": "#00ff00", "strokeWidth": 12, "strokeCap": "butt", "strokeDash": [18, 29]},
              "encoding": {
                "x": {"datum": 2.255, "type": "quantitative", "scale": {"domain": [2.2, 2.6, 5.2, 6.2], "range": [0, 592, 613, 1231], "nice": false, "zero": false}, "axis": null},
                "x2": {"datum": 2.37},
                "y": {"datum": 17.53, "type": "quantitative", "scale": {"domain": [0, 21], "nice": false, "zero": false}, "axis": null}
              }
            },
            {
              "data": {"values": [{}]},
              "mark": {"type": "rule", "color": "#0000ff", "strokeWidth": 12, "strokeCap": "butt", "strokeDash": [56, 34, 8, 34]},
              "encoding": {
                "x": {"datum": 2.255, "type": "quantitative", "scale": {"domain": [2.2, 2.6, 5.2, 6.2], "range": [0, 592, 613, 1231], "nice": false, "zero": false}, "axis": null},
                "x2": {"datum": 2.37},
                "y": {"datum": 15.28, "type": "quantitative", "scale": {"domain": [0, 21], "nice": false, "zero": false}, "axis": null}
              }
            },
            {
              "data": {"values": [{"label": "Ant 1", "ar": 19.81}, {"label": "Ant 2", "ar": 17.53}, {"label": "Ant 3", "ar": 15.28}]},
              "mark": {"type": "text", "align": "left", "baseline": "middle", "fontSize": 72, "fontWeight": "bold", "color": "#000000"},
              "encoding": {
                "x": {"datum": 2.397, "type": "quantitative", "scale": {"domain": [2.2, 2.6, 5.2, 6.2], "range": [0, 592, 613, 1231], "nice": false, "zero": false}, "axis": null},
                "y": {"field": "ar", "type": "quantitative", "scale": {"domain": [0, 21], "nice": false, "zero": false}, "axis": null},
                "text": {"field": "label"}
              }
            },
            {
              "data": {"values": [{"ar": 21}, {"ar": 0}]},
              "mark": {"type": "text", "text": "//", "align": "center", "baseline": "middle", "fontSize": 56, "fontWeight": "bold", "color": "#000000"},
              "encoding": {
                "x": {"datum": 3.9, "type": "quantitative", "scale": {"domain": [2.2, 2.6, 5.2, 6.2], "range": [0, 592, 613, 1231], "nice": false, "zero": false}, "axis": null},
                "y": {"field": "ar", "type": "quantitative", "scale": {"domain": [0, 21], "nice": false, "zero": false}, "axis": null}
              }
            }
          ]
        },
        {
          "data": {"name": "gain"},
          "mark": {"type": "line", "strokeWidth": 11, "strokeCap": "butt"},
          "encoding": {
            "x": {"field": "f", "type": "quantitative", "scale": {"domain": [2.2, 2.6, 5.2, 6.2], "range": [0, 592, 613, 1231], "nice": false, "zero": false},
                  "axis": {"orient": "top", "values": [2.2, 2.3, 2.4, 2.5, 5.2, 5.4, 5.6, 5.8, 6.0, 6.2], "labels": false, "title": null, "tickSize": -15}},
            "y": {"field": "g", "type": "quantitative", "scale": {"domain": [-25, 10], "nice": false, "zero": false},
                  "axis": {"orient": "right", "values": [-25, -20, -15, -10, -5, 0, 5, 10], "title": "Gain (dBc)",
                           "titleX": 215, "titleY": 387, "titleBaseline": "alphabetic", "titleAlign": "center", "titleAngle": -90,
                           "tickSize": -15, "labelPadding": 38}},
            "detail": {"field": "band"},
            "color": {"field": "ant", "type": "nominal", "legend": null,
                      "scale": {"domain": ["Ant 1", "Ant 2", "Ant 3"], "range": ["#ff0000", "#00ff00", "#0000ff"]}},
            "strokeDash": {"field": "ant", "type": "nominal", "legend": null,
                           "scale": {"domain": ["Ant 1", "Ant 2", "Ant 3"], "range": [[1, 0], [18, 29], [56, 34, 8, 34]]}}
          }
        }
      ]
    }
  ]
}
